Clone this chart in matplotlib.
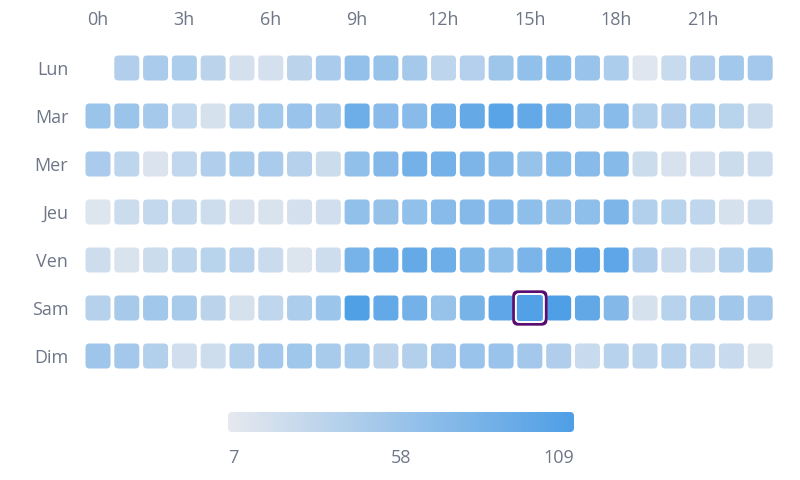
import matplotlib.pyplot as plt
import numpy as np
from matplotlib.colors import LinearSegmentedColormap, Normalize
from matplotlib.patches import FancyBboxPatch

plt.rcParams['font.family'] = ['Open Sans', 'DejaVu Sans']

days = ['Lun', 'Mar', 'Mer', 'Jeu', 'Ven', 'Sam', 'Dim']
hours = ['%dh' % h for h in range(24)]
hour_ticks = [0, 3, 6, 9, 12, 15, 18, 21]

# values per day, 24 hours each (None = no data)
lun = [None, 43, 48, 46, 36, 19, 19, 36, 48, 63, 60, 51, 35, 41, 56, 64, 68, 59, 46, 12, 27, 44, 53, 52]
mar = [58, 58, 51, 32, 18, 42, 53, 59, 54, 89, 70, 70, 87, 94, 102, 95, 87, 64, 70, 42, 44, 46, 38, 26]
mer = [48, 35, 15, 32, 43, 49, 48, 40, 25, 64, 74, 84, 84, 78, 73, 60, 71, 70, 72, 25, 17, 19, 25, 24]
jeu = [13, 25, 30, 30, 24, 17, 16, 19, 22, 64, 61, 64, 70, 73, 73, 66, 62, 66, 78, 42, 38, 33, 18, 24]
ven = [24, 16, 25, 34, 38, 37, 26, 14, 24, 82, 91, 94, 89, 76, 66, 80, 93, 99, 99, 44, 26, 26, 42, 54]
sam = [40, 50, 54, 49, 36, 18, 33, 46, 57, 108, 95, 84, 60, 81, 99, 107, 109, 96, 74, 18, 39, 50, 54, 52]
dim = [56, 52, 42, 22, 24, 42, 52, 55, 49, 49, 36, 42, 52, 59, 59, 52, 44, 27, 39, 35, 39, 33, 27, 14]
rows = [lun, mar, mer, jeu, ven, sam, dim]

vmin, vmax = 7, 109
highlight = (5, 15)  # (day, hour)

cmap = LinearSegmentedColormap.from_list('bl', ['#e6e9ef', '#4f9fe6'])
norm = Normalize(vmin, vmax)
label_col = '#6e7687'

fig = plt.figure(figsize=(8, 4.8), dpi=100)
# grid axes: 24 cols x 28.8px, 7 rows x 48px
ax = fig.add_axes([83.6 / 800, 1 - 380 / 480, 691 / 800, 336 / 480])
ax.set_xlim(-0.5, 23.5)
ax.set_ylim(6.5, -0.5)

px_x = 28.8  # pixels per x unit
px_y = 48.0  # pixels per y unit
cell = 25.0
rad = 4.0
asp = px_x / px_y

def rbox(xc, yc, size, **kw):
    w = size / px_x
    h = size / px_y
    return FancyBboxPatch((xc - w / 2, yc - h / 2), w, h,
                          boxstyle='round,pad=0,rounding_size=%f' % (rad / px_x),
                          mutation_aspect=asp, **kw)

for r, vals in enumerate(rows):
    for c, v in enumerate(vals):
        if v is None:
            continue
        if (r, c) == highlight:
            continue
        ax.add_patch(rbox(c, r, cell, facecolor=cmap(norm(v)), edgecolor='none'))

# emphasized cell
r, c = highlight
v = rows[r][c]
ax.add_patch(rbox(c, r, 32, facecolor='none', edgecolor='#5b0c70', linewidth=2.4))
ax.add_patch(rbox(c, r, 28, facecolor=cmap(norm(v)), edgecolor='white', linewidth=1.4))

ax.set_xticks(hour_ticks)
ax.set_xticklabels([hours[h] for h in hour_ticks])
ax.xaxis.tick_top()
ax.set_yticks(range(7))
ax.set_yticklabels(days)
ax.tick_params(length=0, labelsize=13, colors=label_col)
ax.tick_params(axis='x', pad=11)
ax.tick_params(axis='y', pad=11)
for s in ax.spines.values():
    s.set_visible(False)

# colour bar
cax = fig.add_axes([228 / 800, 1 - 432 / 480, 346 / 800, 20 / 480])
grad = np.linspace(vmin, vmax, 256).reshape(1, -1)
im = cax.imshow(grad, cmap=cmap, norm=norm, aspect='auto', extent=[vmin, vmax, 0, 1])
clip = FancyBboxPatch((vmin, 0), vmax - vmin, 1,
                      boxstyle='round,pad=0,rounding_size=%f' % (4 * (vmax - vmin) / 346),
                      mutation_aspect=346 / 20 / (vmax - vmin),
                      transform=cax.transData, facecolor='none', edgecolor='none')
cax.add_patch(clip)
im.set_clip_path(clip)
cax.set_xlim(vmin, vmax)
cax.set_ylim(0, 1)
cax.axis('off')
for val, ha in [(vmin, 'left'), ((vmin + vmax) / 2, 'center'), (vmax, 'right')]:
    fig.text((228 + (val - vmin) / (vmax - vmin) * 346) / 800, 1 - 458 / 480,
             '%d' % val, ha=ha, va='center', fontsize=13, color=label_col)

fig.savefig('out.png', dpi=100)
